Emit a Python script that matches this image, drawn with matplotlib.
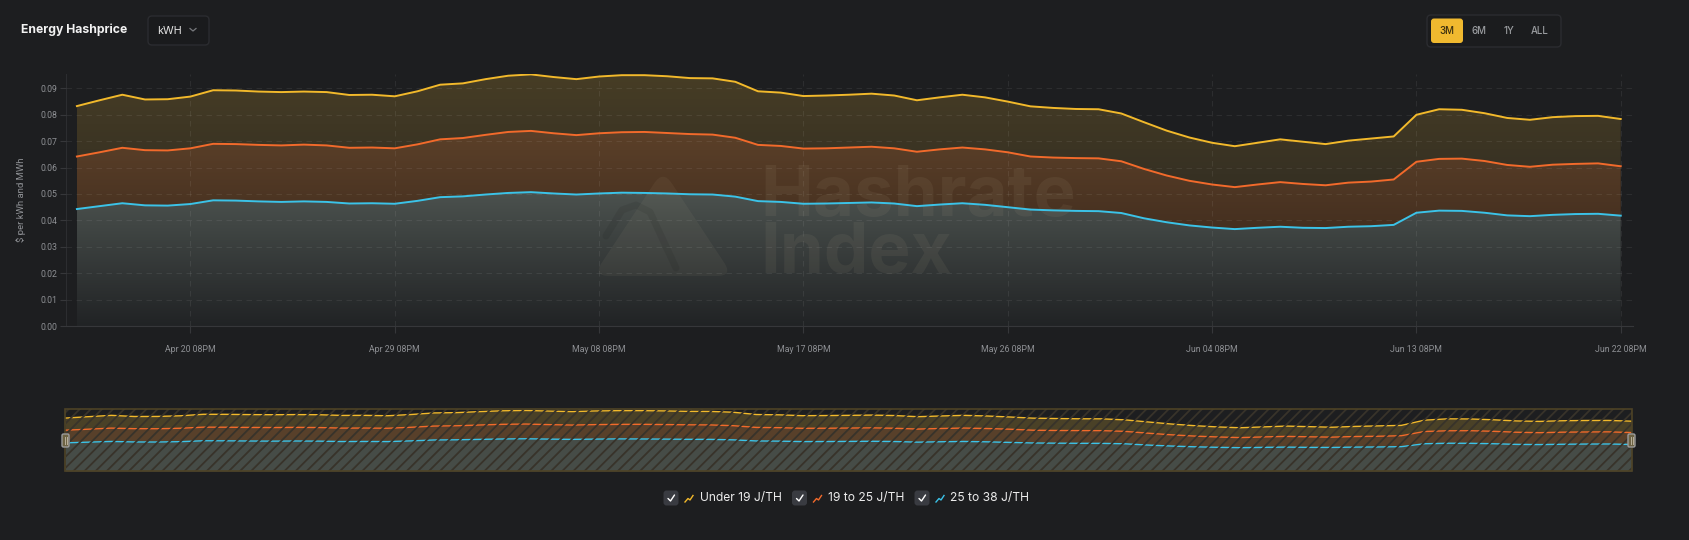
import numpy as np
import pandas as pd
import matplotlib
matplotlib.use("Agg")
import matplotlib.pyplot as plt
import matplotlib.dates as mdates
from matplotlib.patches import FancyBboxPatch, Rectangle, PathPatch
from matplotlib.path import Path
from matplotlib.lines import Line2D
from matplotlib.colors import to_rgb
from matplotlib.transforms import Affine2D

# ---------------- data ----------------
dates = pd.date_range("2024-04-15 20:00", periods=69, freq="D")
under_19 = [0.0833, 0.0855, 0.0876, 0.0858, 0.0859, 0.0869, 0.0893, 0.0892, 0.0888, 0.0886,
            0.0888, 0.0886, 0.0875, 0.0876, 0.0870, 0.0889, 0.0914, 0.0919, 0.0935, 0.0948,
            0.0953, 0.0943, 0.0935, 0.0945, 0.0950, 0.0950, 0.0946, 0.0939, 0.0938, 0.0925,
            0.0889, 0.0884, 0.0871, 0.0873, 0.0876, 0.0880, 0.0873, 0.0855, 0.0866, 0.0876,
            0.0866, 0.0850, 0.0832, 0.0826, 0.0822, 0.0821, 0.0805, 0.0772, 0.0740, 0.0714,
            0.0694, 0.0681, 0.0694, 0.0707, 0.0698, 0.0689, 0.0702, 0.0710, 0.0718, 0.0800,
            0.0821, 0.0819, 0.0806, 0.0788, 0.0781, 0.0791, 0.0795, 0.0796, 0.0784]
from_19_to_25 = [0.0642, 0.0658, 0.0675, 0.0666, 0.0665, 0.0673, 0.0690, 0.0689, 0.0686, 0.0684,
                 0.0687, 0.0684, 0.0675, 0.0676, 0.0673, 0.0688, 0.0707, 0.0712, 0.0724, 0.0735,
                 0.0739, 0.0730, 0.0723, 0.0730, 0.0734, 0.0735, 0.0731, 0.0727, 0.0725, 0.0713,
                 0.0686, 0.0682, 0.0672, 0.0673, 0.0676, 0.0679, 0.0673, 0.0660, 0.0669, 0.0676,
                 0.0669, 0.0658, 0.0642, 0.0638, 0.0636, 0.0635, 0.0624, 0.0595, 0.0570, 0.0550,
                 0.0536, 0.0526, 0.0536, 0.0545, 0.0538, 0.0533, 0.0543, 0.0547, 0.0555, 0.0622,
                 0.0633, 0.0634, 0.0625, 0.0610, 0.0603, 0.0611, 0.0614, 0.0616, 0.0605]
from_25_to_38 = [0.0443, 0.0454, 0.0465, 0.0457, 0.0456, 0.0462, 0.0476, 0.0475, 0.0472, 0.0470,
                 0.0472, 0.0470, 0.0464, 0.0465, 0.0463, 0.0474, 0.0488, 0.0491, 0.0498, 0.0504,
                 0.0507, 0.0502, 0.0498, 0.0502, 0.0505, 0.0504, 0.0502, 0.0499, 0.0498, 0.0490,
                 0.0473, 0.0470, 0.0463, 0.0464, 0.0466, 0.0468, 0.0464, 0.0454, 0.0460, 0.0465,
                 0.0459, 0.0450, 0.0441, 0.0438, 0.0436, 0.0435, 0.0428, 0.0408, 0.0393, 0.0381,
                 0.0373, 0.0367, 0.0372, 0.0376, 0.0372, 0.0371, 0.0376, 0.0378, 0.0383, 0.0429,
                 0.0437, 0.0436, 0.0429, 0.0419, 0.0416, 0.0421, 0.0424, 0.0425, 0.0418]
tick_dates = pd.date_range("2024-04-20 20:00", periods=8, freq="9D")
y_ticks = [0.00, 0.01, 0.02, 0.03, 0.04, 0.05, 0.06, 0.07, 0.08, 0.09]
series_labels = ["Under 19 J/TH", "19 to 25 J/TH", "25 to 38 J/TH"]
title = "Energy Hashprice"
unit_label = "kWH"
range_buttons = ["3M", "6M", "1Y", "ALL"]
y_label = "$ per kWh and MWh"
watermark = "Hashrate\nIndex"

# ---------------- style ----------------
BG = "#1d1e20"
TXT = "#8e9094"
YEL = "#f2b92b"
ORA = "#f26a2b"
CYA = "#3bc3e8"
W, H = 1690, 540

plt.rcParams["hatch.linewidth"] = 1.3
fig = plt.figure(figsize=(W / 100, H / 100), dpi=100, facecolor=BG)
T = Affine2D().scale(1, -1).translate(0, H)  # top-left pixel coords -> display


def fx(p):
    return p / W


def fy(p):
    return 1 - p / H


def rounded_poly(pts, r):
    pts = np.asarray(pts, float)
    n = len(pts)
    verts, codes = [], []
    for i in range(n):
        p0, p1, p2 = pts[i - 1], pts[i], pts[(i + 1) % n]
        a = p1 + (p0 - p1) / np.linalg.norm(p0 - p1) * r
        b = p1 + (p2 - p1) / np.linalg.norm(p2 - p1) * r
        verts += [a, p1, b]
        codes += [Path.MOVETO if i == 0 else Path.LINETO, Path.CURVE3, Path.CURVE3]
    verts.append(verts[0])
    codes.append(Path.CLOSEPOLY)
    return Path(verts, codes)


x = mdates.date2num(dates)
yv = np.array(under_19)
ov = np.array(from_19_to_25)
cv = np.array(from_25_to_38)

# ---------------- main axes ----------------
ax = fig.add_axes([fx(66), fy(326), fx(1633) - fx(66), fy(74) - fy(326)])
ax.set_facecolor(BG)
YMAX = 0.09545


def grad_band(a, lo, hi, c_top, c_bot, z=1):
    coll = a.fill_between(x, lo, hi, facecolor="none", edgecolor="none")
    ct = np.array(to_rgb(c_top))
    cb = np.array(to_rgb(c_bot))
    t = np.linspace(0, 1, 256)[:, None]
    arr = ct * (1 - t) + cb * t
    im = a.imshow(arr[:, None, :], extent=[x[0], x[-1], 0, YMAX], origin="upper",
                  aspect="auto", zorder=z, interpolation="bilinear")
    im.set_clip_path(coll.get_paths()[0], transform=a.transData)


grad_band(ax, ov, yv, "#473d25", "#1f1f20")
grad_band(ax, cv, ov, "#694a2e", "#2e1f17")
grad_band(ax, np.zeros_like(cv), cv, "#717b73", "#212325")

ax.plot(x, yv, color=YEL, lw=1.4, zorder=3, solid_joinstyle="round")
ax.plot(x, ov, color=ORA, lw=1.4, zorder=3, solid_joinstyle="round")
ax.plot(x, cv, color=CYA, lw=1.4, zorder=3, solid_joinstyle="round")

# watermark
ax.text(760, 273, watermark, transform=T, fontsize=51, fontweight="bold", family="Inter",
        color="#d8c8a8", alpha=0.07, zorder=2, va="baseline", ha="left", linespacing=0.85)
ax.add_patch(PathPatch(rounded_poly([(663, 170), (733, 276), (593, 276)], 16), transform=T,
                       facecolor="#d8c8a8", alpha=0.06, edgecolor="none", zorder=2))
ax.add_line(Line2D([606, 622, 636, 650, 676], [236, 210, 205, 212, 268], transform=T,
                   color="#000000", alpha=0.07, lw=5, zorder=2, solid_capstyle="round",
                   solid_joinstyle="round"))

ax.set_xlim(x[0] - 0.48, x[-1] + 0.54)
ax.set_ylim(0, YMAX)
ax.set_yticks(y_ticks)
ax.set_yticklabels([f"{v:.2f}" for v in y_ticks])
ax.set_xticks(mdates.date2num(tick_dates))
ax.set_xticklabels([d.strftime("%b %d %I%p") for d in tick_dates])
for lab in ax.get_xticklabels() + ax.get_yticklabels():
    lab.set_family("Roboto")
ax.tick_params(axis="x", length=5, color="#36373a", pad=9, labelsize=6.3, labelcolor=TXT)
ax.tick_params(axis="y", length=4, color="#36373a", pad=2, labelsize=6.3, labelcolor=TXT)
ax.grid(True, ls=(0, (5, 4)), color="white", alpha=0.07, lw=0.8)
ax.set_axisbelow(False)
for s in ["top", "right"]:
    ax.spines[s].set_visible(False)
ax.spines["left"].set_color("#2c2d30")
ax.spines["bottom"].set_color("#36373a")
ax.set_ylabel(y_label, fontsize=6.8, color=TXT, family="Roboto")
ax.yaxis.set_label_coords(-0.0255, 0.5)

# ---------------- navigator ----------------
nav = fig.add_axes([fx(65.3), fy(471), fx(1631.7) - fx(65.3), (471 - 409) / H])
nav.set_facecolor("#24231f")
nav.fill_between(x, ov, yv, color="#4a4127", lw=0)
nav.fill_between(x, cv, ov, color="#58402a", lw=0)
nav.fill_between(x, 0, cv, color="#464c47", lw=0)
nav.plot(x, yv, color=YEL, lw=1.0)
nav.plot(x, ov, color=ORA, lw=1.0)
nav.plot(x, cv, color=CYA, lw=1.0)
nav.set_xlim(x[0], x[-1])
nav.set_ylim(0, 0.0976)
nav.axis("off")
nav.add_patch(Rectangle((0, 0), 1, 1, transform=nav.transAxes, facecolor="none",
                        edgecolor="#38332a", hatch="///", lw=0, zorder=5))
nav.add_patch(Rectangle((0, 0), 1, 1, transform=nav.transAxes, facecolor="none",
                        edgecolor="#4e4326", lw=1.2, zorder=6, clip_on=False))

for hx in (62, 1628):
    fig.add_artist(FancyBboxPatch((hx, 434), 7, 13, boxstyle="round,pad=0,rounding_size=1.5",
                                  transform=T, facecolor="#6d6344", edgecolor="#9b9b9b", lw=1))
    for dx in (2.5, 4.5):
        fig.add_artist(Line2D([hx + dx, hx + dx], [437, 444], transform=T, color="#b9b09a", lw=0.7))

# ---------------- header ----------------
fig.text(21, 30, title, transform=T, fontsize=8.8, fontweight="bold", family="Inter",
         color="#f2f2f2", va="center", ha="left")
fig.add_artist(FancyBboxPatch((148, 16), 61, 29, boxstyle="round,pad=0,rounding_size=4",
                              transform=T, facecolor="#1a1b1d", edgecolor="#2b2c30", lw=1))
fig.text(157, 30.5, unit_label, transform=T, fontsize=7.8, family="Inter", color="#e6e6e6",
         va="center", ha="left")
fig.add_artist(Line2D([190, 193, 196], [28.5, 31, 28.5], transform=T, color="#77797d", lw=0.9))

fig.add_artist(FancyBboxPatch((1427, 15), 134, 32, boxstyle="round,pad=0,rounding_size=4",
                              transform=T, facecolor="#1b1c1e", edgecolor="#2b2c30", lw=1))
fig.add_artist(FancyBboxPatch((1431, 18.5), 32, 24.5, boxstyle="round,pad=0,rounding_size=3",
                              transform=T, facecolor="#f0b92f", edgecolor="none"))
btn_x = [1447, 1479, 1508.5, 1540]
for bx, lab in zip(btn_x, range_buttons):
    fig.text(bx, 30.5, lab, transform=T, fontsize=7, family="Inter", fontweight="medium",
             color="#3a2f10" if lab == "3M" else "#9a9ca0", va="center", ha="center")

# ---------------- legend ----------------
leg_box_x = [663.5, 792, 914.5]
leg_text_x = [699.5, 828, 950.5]
leg_cols = [YEL, ORA, CYA]
for bx, tx, lab, col in zip(leg_box_x, leg_text_x, series_labels, leg_cols):
    fig.add_artist(FancyBboxPatch((bx, 490.5), 15, 15, boxstyle="round,pad=0,rounding_size=3",
                                  transform=T, facecolor="#393b41", edgecolor="none"))
    fig.add_artist(Line2D([bx + 4.5, bx + 7, bx + 11], [498.5, 501, 495], transform=T,
                          color="white", lw=1.0, solid_capstyle="round", solid_joinstyle="round"))
    ix = bx + 21.5
    fig.add_artist(Line2D([ix, ix + 3, ix + 5, ix + 8], [502, 498.5, 500, 495.5], transform=T,
                          color=col, lw=1.0))
    fig.text(tx, 498.5, lab, transform=T, fontsize=8.7, family="Inter", color="#ececec",
             va="center", ha="left")

fig.savefig("out.png", dpi=100, facecolor=BG)
